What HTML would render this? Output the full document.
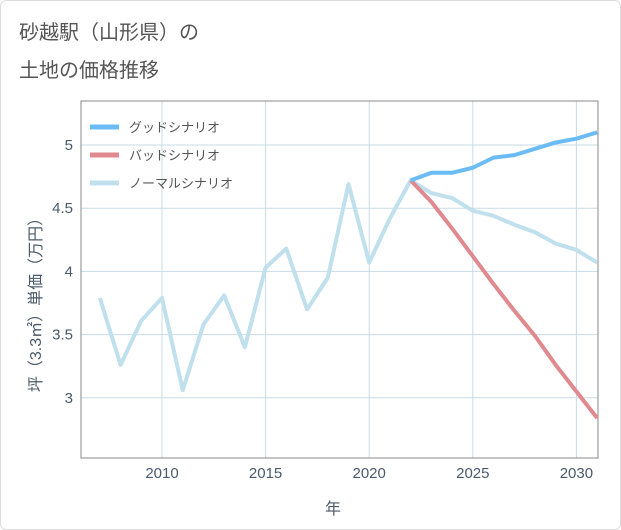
<!DOCTYPE html>
<html><head><meta charset="utf-8"><style>
body{margin:0;background:#fff;}
#wrap{position:relative;width:621px;height:530px;background:#fff;border:1px solid #ddd;box-sizing:border-box;border-radius:6px;overflow:hidden;font-family:"Liberation Sans","Noto Sans CJK JP",sans-serif;}
</style></head><body>
<div id="wrap">
<svg id="chart" width="621" height="530"></svg>
</div>
<script>
const years=[2007,2008,2009,2010,2011,2012,2013,2014,2015,2016,2017,2018,2019,2020,2021,2022,2023,2024,2025,2026,2027,2028,2029,2030,2031];
const normalVals=[3.79,3.26,3.61,3.79,3.06,3.58,3.81,3.40,4.03,4.18,3.70,3.95,4.69,4.07,4.42,4.72,4.62,4.58,4.48,4.44,4.37,4.31,4.22,4.17,4.07];
const scenYears=[2022,2023,2024,2025,2026,2027,2028,2029,2030,2031];
const goodVals=[4.72,4.78,4.78,4.82,4.90,4.92,4.97,5.02,5.05,5.10];
const badVals=[4.72,4.55,4.34,4.12,3.90,3.69,3.49,3.26,3.05,2.84];
const xTicks=[2010,2015,2020,2025,2030];
const yTicks=[3,3.5,4,4.5,5];
const yLabels=["3","3.5","4","4.5","5"];
const NS="http://www.w3.org/2000/svg";
const svg=document.getElementById('chart');
const L=80,R=597,T=100,B=457;
const x=v=>161+(v-2010)*20.72;
const y=v=>144+(5-v)*126.4;
function mk(t,a,p){const e=document.createElementNS(NS,t);for(const k in a)e.setAttribute(k,a[k]);(p||svg).appendChild(e);return e;}
const title=mk('text',{x:18,y:38,'font-size':20,fill:'#555'});


title.textContent='砂越駅（山形県）の';
const title2=mk('text',{x:18,y:76,'font-size':20,fill:'#555'});


title2.textContent='土地の価格推移';
xTicks.forEach(t=>{
const g=mk('line',{x1:x(t),x2:x(t),y1:T,y2:B,stroke:'#c9dbe6','stroke-width':1});


const l=mk('text',{x:x(t),y:477,'font-size':15,fill:'#4a5a6a','text-anchor':'middle'});


l.textContent=t;
});
yTicks.forEach((t,i)=>{
const g=mk('line',{x1:L,x2:R,y1:y(t),y2:y(t),stroke:'#c9dbe6','stroke-width':1});


const l=mk('text',{x:72,y:y(t)+5,'font-size':15,fill:'#4a5a6a','text-anchor':'end'});


l.textContent=yLabels[i];
});
const frame=mk('rect',{x:L,y:T,width:R-L,height:B-T,fill:'none',stroke:'#888','stroke-width':1});


function line(xs,vs,c,n){
const p=mk('polyline',{points:xs.map((v,i)=>x(v)+','+y(vs[i])).join(' '),fill:'none',stroke:c,'stroke-width':4,'stroke-linejoin':'round'});


}
const cp=mk('clipPath',{id:'cp'});mk('rect',{x:L,y:T,width:R-L,height:B-T},cp);
const gg=mk('g',{'clip-path':'url(#cp)'});
function line2(xs,vs,c,n){
const p=mk('polyline',{points:xs.map((v,i)=>x(v)+','+y(vs[i])).join(' '),fill:'none',stroke:c,'stroke-width':4,'stroke-linejoin':'round'},gg);


}
line2(years,normalVals,'#bfe0ec','normal-scenario-line');
line2(scenYears,badVals,'#e08a8f','bad-scenario-line');
line2(scenYears,goodVals,'#6bbcf5','good-scenario-line');
const leg=[['グッドシナリオ','#6bbcf5','legend-good'],['バッドシナリオ','#e08a8f','legend-bad'],['ノーマルシナリオ','#bfe0ec','legend-normal']];
leg.forEach((d,i)=>{
const g=mk('g',{});


mk('line',{x1:89,x2:118,y1:126+i*28,y2:126+i*28,stroke:d[1],'stroke-width':5},g);
const t=mk('text',{x:128,y:131+i*28,'font-size':13,fill:'#555'},g);
t.textContent=d[0];
});
const xt=mk('text',{x:332,y:513,'font-size':16,fill:'#4a5a6a','text-anchor':'middle'});


xt.textContent='年';
const yt=mk('text',{x:0,y:0,'font-size':16,fill:'#4a5a6a','text-anchor':'middle',transform:'translate(40,300) rotate(-90)'});


yt.textContent='坪（3.3㎡）単価（万円）';
</script>
</body></html>
